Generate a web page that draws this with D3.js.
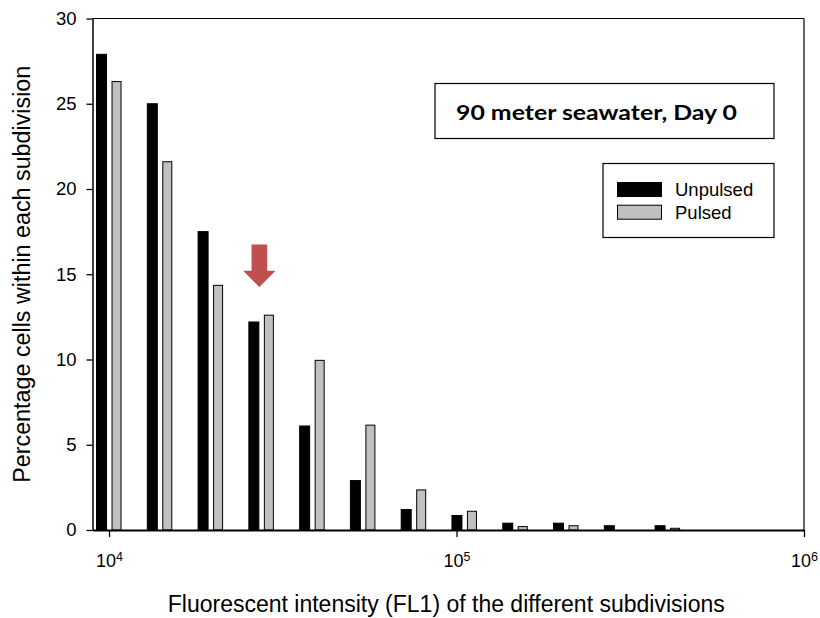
<!DOCTYPE html>
<html>
<head>
<meta charset="utf-8">
<script src="https://cdn.jsdelivr.net/npm/d3@7"></script>
<style>
  html, body { margin: 0; padding: 0; background: #fff; }
  svg { display: block; }
  text { font-family: "Liberation Sans", Arial, sans-serif; fill: #000; }
</style>
</head>
<body>
<svg id="chart" width="820" height="618"></svg>
<script>
// ---- data ----
const bins = [10000, 14000, 19600, 27440, 38420, 53780, 75300, 105400, 147600, 206600, 289300, 405000];
const unpulsed = [27.9, 25.0, 17.5, 12.2, 6.1, 2.9, 1.2, 0.85, 0.4, 0.4, 0.25, 0.25];
const pulsed = [26.3, 21.6, 14.35, 12.6, 9.95, 6.15, 2.35, 1.1, 0.2, 0.25, 0, 0.1];
const seriesNames = ["Unpulsed", "Pulsed"];
const yTicks = [0, 5, 10, 15, 20, 25, 30];
const xTickExps = [4, 5, 6];
const titleText = "90 meter seawater, Day 0";
const xTitle = "Fluorescent intensity (FL1) of the different subdivisions";
const yTitle = "Percentage cells within each subdivision";
const arrowBin = 27440;

// ---- layout ----
const L = 92.5, R = 804, T = 18.5, B = 530;
const svg = d3.select("#chart");

const x = d3.scaleLog().domain([Math.pow(10, 4 - (109 - L) / 347), 1e6]).range([L, R]);
const y = d3.scaleLinear().domain([0, 30]).range([B, T]);

const barW = 10, gap = 2.5;

// bars
const g = svg.append("g");
g.selectAll("rect.unp").data(bins.map((b, i) => ({b, v: unpulsed[i]})))
  .join("rect").attr("class", "unp")
  .attr("x", d => x(d.b) - gap - barW).attr("width", barW)
  .attr("y", d => y(d.v)).attr("height", d => y(0) - y(d.v))
  .attr("fill", "#000").attr("stroke", "#000").attr("stroke-width", 1);

g.selectAll("rect.pul").data(bins.map((b, i) => ({b, v: pulsed[i]})).filter(d => d.v > 0))
  .join("rect").attr("class", "pul")
  .attr("x", d => x(d.b) + gap + 0.5).attr("width", barW - 1)
  .attr("y", d => y(d.v)).attr("height", d => y(0) - y(d.v))
  .attr("fill", "#c0c0c0").attr("stroke", "#000").attr("stroke-width", 1);

// frame top & right
svg.append("line").attr("x1", L).attr("x2", R).attr("y1", T).attr("y2", T)
  .attr("stroke", "#000").attr("stroke-width", 1.2);
svg.append("line").attr("x1", R).attr("x2", R).attr("y1", T).attr("y2", B)
  .attr("stroke", "#000").attr("stroke-width", 1.2);

// y axis
const yAxis = svg.append("g").attr("transform", `translate(${L},0)`)
  .call(d3.axisLeft(y).tickValues(yTicks).tickSize(6).tickPadding(10).tickSizeOuter(0));
yAxis.select(".domain").attr("stroke-width", 1.5);
yAxis.selectAll(".tick line").attr("stroke-width", 1.3);
yAxis.selectAll("text").style("font-size", "18.5px").style("font-family", '"Liberation Sans", Arial, sans-serif').attr("fill", "#000");

// x axis
const xAxis = svg.append("g").attr("transform", `translate(0,${B})`)
  .call(d3.axisBottom(x).tickValues(xTickExps.map(e => Math.pow(10, e))).tickSize(7).tickSizeOuter(0).tickFormat(""));
xAxis.select(".domain").attr("stroke-width", 1.8);
xAxis.selectAll(".tick line").attr("stroke-width", 1.3);
xAxis.selectAll(".tick").each(function(d, i) {
  const t = d3.select(this).append("text").attr("y", 37).attr("text-anchor", "middle")
    .style("font-size", "18px").attr("fill", "#000");
  t.append("tspan").text("10");
  t.append("tspan").attr("dy", -6).style("font-size", "12.5px").text(String(xTickExps[i]));
});

// axis titles
svg.append("text").attr("x", (L + R) / 2 - 2).attr("y", 612).attr("text-anchor", "middle")
  .style("font-size", "23px").text(xTitle);
svg.append("text").attr("transform", `translate(30,${(T + B) / 2}) rotate(-90)`).attr("text-anchor", "middle")
  .style("font-size", "23.3px").text(yTitle);

// title box
svg.append("rect").attr("x", 435).attr("y", 83.5).attr("width", 339).attr("height", 55)
  .attr("fill", "#fff").attr("stroke", "#000").attr("stroke-width", 1.2);
svg.append("text").attr("x", 456).attr("y", 119.5)
  .style("font-family", "Lato, 'Open Sans', sans-serif").style("font-weight", "bold").style("font-size", "21.5px")
  .attr("textLength", 281).attr("lengthAdjust", "spacingAndGlyphs").text(titleText);

// legend
svg.append("rect").attr("x", 603).attr("y", 163.5).attr("width", 171).attr("height", 74)
  .attr("fill", "#fff").attr("stroke", "#000").attr("stroke-width", 1.2);
const legFill = ["#000", "#c0c0c0"];
seriesNames.forEach((name, i) => {
  svg.append("rect").attr("x", 617.5).attr("y", 182.5 + i * 22.7).attr("width", 44).attr("height", 14)
    .attr("fill", legFill[i]).attr("stroke", "#000").attr("stroke-width", 1);
  svg.append("text").attr("x", 675).attr("y", 196 + i * 22.7).style("font-size", "18.5px").text(name);
});

// arrow
const ax = x(arrowBin) - 2;
const yTop = y(16.75), yNeck = y(15.2), yTip = y(14.25);
svg.append("path")
  .attr("d", `M${ax - 7.8},${yTop} L${ax + 7.8},${yTop} L${ax + 7.8},${yNeck} L${ax + 16.2},${yNeck} L${ax},${yTip} L${ax - 16.2},${yNeck} L${ax - 7.8},${yNeck} Z`)
  .attr("fill", "#c0504d");
</script>
</body>
</html>
